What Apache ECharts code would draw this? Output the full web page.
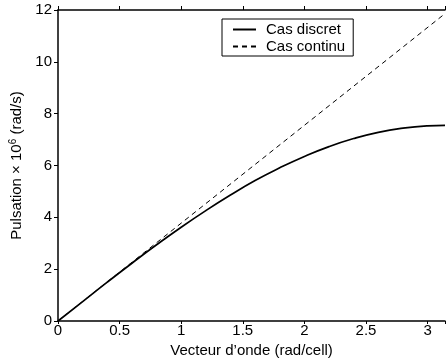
<!DOCTYPE html>
<html>
<head>
<meta charset="utf-8">
<script src="https://cdn.jsdelivr.net/npm/echarts@6/dist/echarts.min.js"></script>
<style>html,body{margin:0;padding:0;background:#fff}#c{width:447px;height:358px}</style>
</head>
<body>
<div id="c"></div>
<script>
// Discrete case
const kDiscrete = [0, 0.2, 0.4, 0.6, 0.8, 1.0, 1.2, 1.4, 1.6, 1.8, 2.0, 2.2, 2.4, 2.6, 2.8, 3.0, 3.1416];
const wDiscrete = [0, 0.75, 1.50, 2.23, 2.94, 3.62, 4.26, 4.86, 5.42, 5.91, 6.35, 6.73, 7.04, 7.28, 7.44, 7.53, 7.55];
// Continuous case (straight line)
const kContinu = [0, 3.1416];
const wContinu = [0, 11.86];
const xTicks = [0, 0.5, 1, 1.5, 2, 2.5, 3];
const yTicks = [0, 2, 4, 6, 8, 10, 12];
const seriesNames = ['Cas discret', 'Cas continu'];

const font = 'Liberation Sans, Arial, Helvetica, sans-serif';
const FS = 15;
const chart = echarts.init(document.getElementById('c'), null, {renderer: 'canvas'});
const zip = (a, b) => a.map((v, i) => [v, b[i]]);
const isTick = (list, v) => list.some(t => Math.abs(t - v) < 1e-6);

chart.setOption({
  animation: false,
  backgroundColor: '#fff',
  textStyle: {fontFamily: font, color: '#000'},
  grid: {left: 58, right: 2, top: 10, bottom: 37, containLabel: false, outerBoundsMode: 'none'},
  legend: {
    orient: 'vertical', left: 222, top: 19,
    data: seriesNames,
    borderColor: '#000', borderWidth: 1, backgroundColor: '#fff',
    padding: [3, 8, 2, 10], itemGap: 2, itemWidth: 23, itemHeight: 14,
    itemStyle: {opacity: 0},
    textStyle: {fontFamily: font, fontSize: FS, color: '#000', padding: [0, 0, 0, 5]}
  },
  xAxis: [{
    type: 'value', min: 0, max: 3.1416, interval: 0.5,
    name: 'Vecteur d\u2019onde (rad/cell)', nameLocation: 'middle', nameGap: 21,
    nameTextStyle: {fontFamily: font, fontSize: FS, color: '#000'},
    axisLine: {show: true, onZero: false, lineStyle: {color: '#000', width: 1.5}},
    axisTick: {show: true, length: 3, lineStyle: {color: '#000'}},
    axisLabel: {fontFamily: font, fontSize: FS, color: '#000', margin: 2,
      formatter: v => isTick(xTicks, v) ? String(v) : ''},
    splitLine: {show: false}
  }, {
    type: 'value', position: 'top', min: 0, max: 3.1416, interval: 0.5,
    axisLine: {show: true, onZero: false, lineStyle: {color: '#000', width: 1.5}},
    axisTick: {show: true, length: 4, lineStyle: {color: '#000'}},
    axisLabel: {show: false},
    splitLine: {show: false}
  }],
  yAxis: {
    type: 'value', min: 0, max: 12, interval: 2,
    name: '{n|Pulsation \u00d7 10}{s|6}{n| (rad/s)}', nameLocation: 'middle', nameGap: 23, nameRotate: 90,
    nameTextStyle: {
      fontFamily: font, fontSize: FS, color: '#000',
      rich: {
        n: {fontFamily: font, fontSize: FS, color: '#000', lineHeight: 18},
        s: {fontFamily: font, fontSize: 10, color: '#000', verticalAlign: 'top', lineHeight: 18, padding: [0, 0, 6, 0]}
      }
    },
    axisLine: {show: true, lineStyle: {color: '#000', width: 1.5}},
    axisTick: {show: true, length: 4, lineStyle: {color: '#000'}},
    axisLabel: {fontFamily: font, fontSize: FS, color: '#000', margin: 6,
      formatter: v => isTick(yTicks, v) ? String(v) : ''},
    splitLine: {show: false}
  },
  series: [{
    name: seriesNames[0], type: 'line', smooth: true, symbol: 'none',
    data: zip(kDiscrete, wDiscrete),
    lineStyle: {color: '#000', width: 1.7, type: 'solid'},
    itemStyle: {color: '#000'}
  }, {
    name: seriesNames[1], type: 'line', symbol: 'none',
    data: zip(kContinu, wContinu),
    lineStyle: {color: '#000', width: 1, type: [5, 4]},
    itemStyle: {color: '#000'}
  }]
});
</script>
</body>
</html>
